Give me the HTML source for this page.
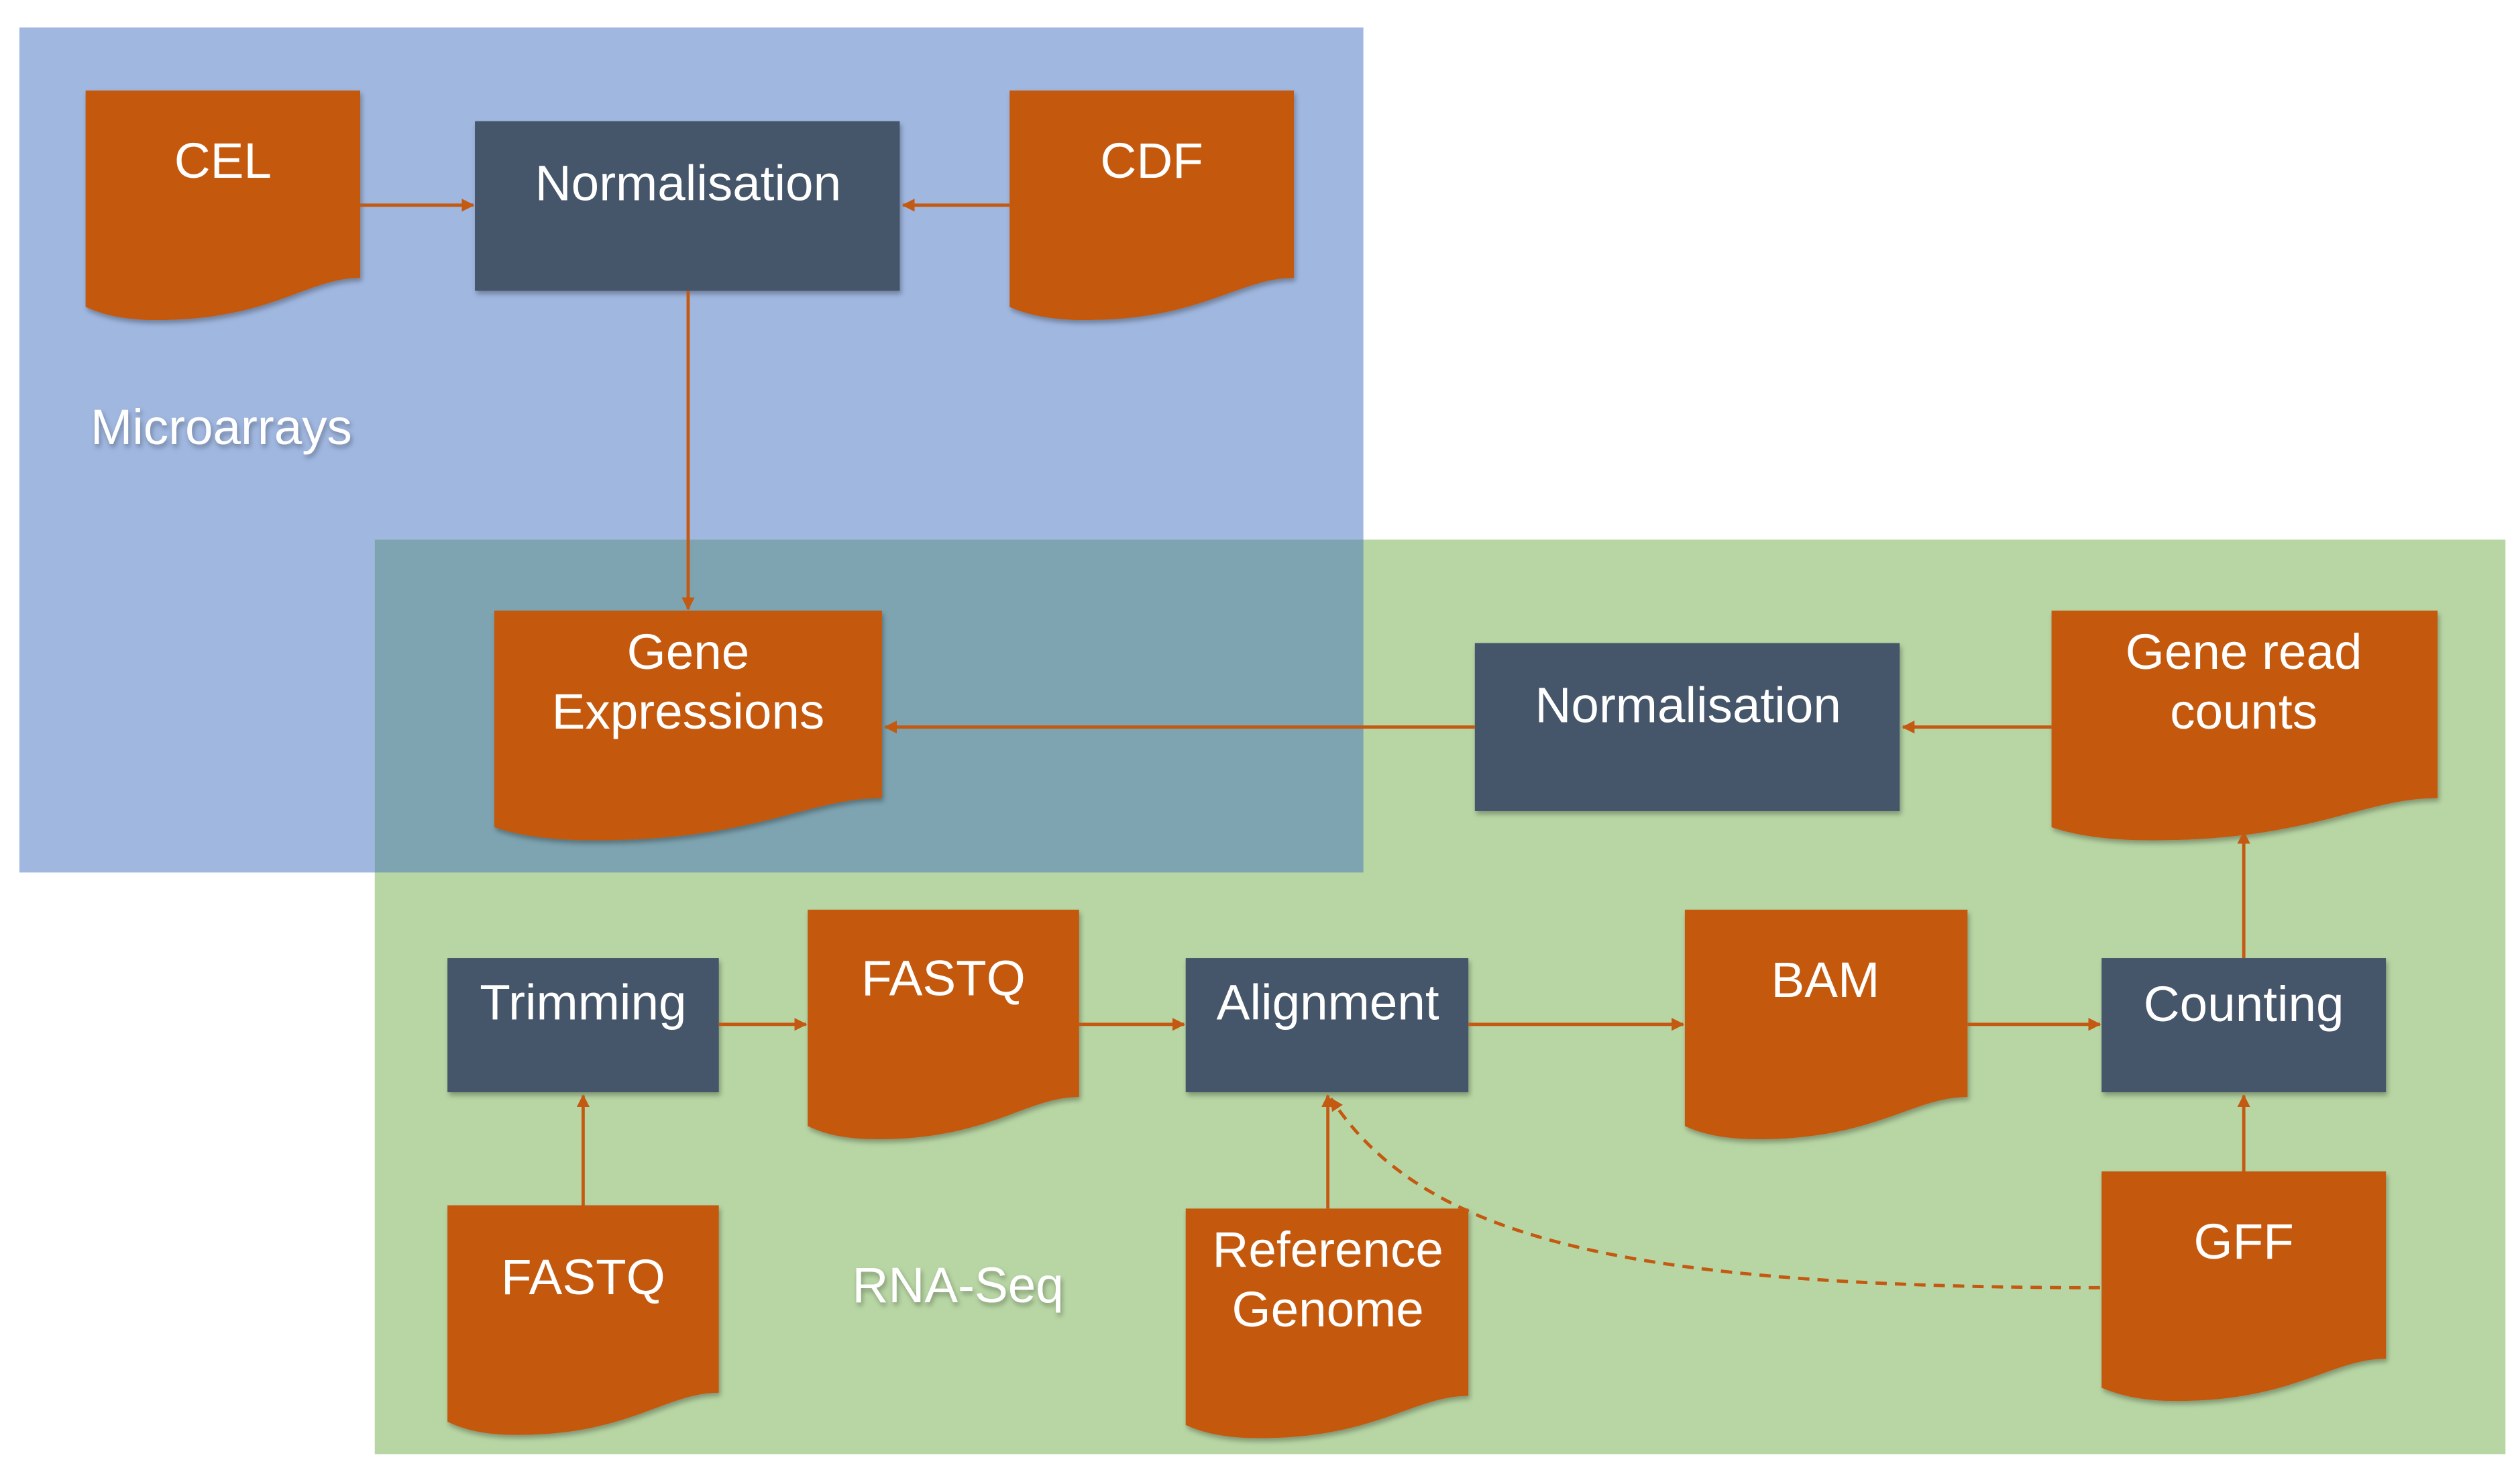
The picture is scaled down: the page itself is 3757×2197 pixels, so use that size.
<!DOCTYPE html>
<html><head><meta charset="utf-8"><style>
html,body{margin:0;padding:0;background:#fff;}
svg{display:block;}
text{font-family:"Liberation Sans Narrow","Liberation Sans",sans-serif;fill:#fff;text-anchor:middle;font-size:31px;}
</style></head><body>
<svg width="3757" height="2197" viewBox="0 0 1560 912.3" preserveAspectRatio="none" xmlns="http://www.w3.org/2000/svg">
<defs>
<marker id="a" viewBox="0 0 10 10" refX="9" refY="5" markerWidth="4" markerHeight="4" orient="auto"><path d="M0,0L10,5L0,10z" fill="#c45911"/></marker>
<filter id="s" x="-10%" y="-10%" width="130%" height="130%"><feDropShadow dx="1" dy="2" stdDeviation="1.5" flood-color="#000" flood-opacity="0.3"/></filter>
</defs>
<rect x="12" y="17" width="832" height="523" fill="#a0b7e0"/>
<rect x="232" y="334" width="1319" height="566" fill="#b8d6a4"/>
<rect x="232" y="334" width="612" height="206" fill="#7ea4b1"/>

<g fill="#c45911" filter="url(#s)">
<path d="M53,56H223V172C189,172 166,200 90,198 70,197 60,193 53,190Z"/>
<path d="M625,56H801V172C766,172 742,200 664,198 643,197 632,193 625,190Z"/>
<path d="M306,378H546V494C498,494 466,522 358,520 330,519 315,515 306,512Z"/>
<path d="M1270,378H1509V494C1461,494 1429,522 1322,520 1294,519 1279,515 1270,512Z"/>
<path d="M500,563H668V679C634,679 611,707 536,705 516,704 507,700 500,697Z"/>
<path d="M1043,563H1218V679C1183,679 1159,707 1081,705 1060,704 1050,700 1043,697Z"/>
<path d="M277,746H445V862C411,862 388,890 313,888 293,887 284,883 277,880Z"/>
<path d="M734,748H909V864C874,864 850,892 772,890 751,889 741,885 734,882Z"/>
<path d="M1301,725H1477V841C1442,841 1418,869 1340,867 1319,866 1309,862 1301,859Z"/>
</g>
<g fill="#44546a" filter="url(#s)">
<rect x="294" y="75" width="263" height="105"/>
<rect x="913" y="398" width="263" height="104"/>
<rect x="277" y="593" width="168" height="83"/>
<rect x="734" y="593" width="175" height="83"/>
<rect x="1301" y="593" width="176" height="83"/>
</g>
<g stroke="#c45911" stroke-width="2" fill="none" marker-end="url(#a)">
<path d="M223,127H293"/>
<path d="M625,127H559"/>
<path d="M426,180V377"/>
<path d="M913,450H548"/>
<path d="M1270,450H1178"/>
<path d="M1389,593V515"/>
<path d="M445,634H499"/>
<path d="M668,634H733"/>
<path d="M909,634H1042"/>
<path d="M1218,634H1300"/>
<path d="M361,746V678"/>
<path d="M822,748V678"/>
<path d="M1389,725V678"/>
<path d="M1300,797C1000,797 880,765 824,680" stroke-dasharray="7,5"/>
</g>
<text x="138" y="110">CEL</text>
<text x="426" y="124">Normalisation</text>
<text x="713" y="110">CDF</text>
<text x="137" y="275" style="filter:url(#s)">Microarrays</text>
<text x="426" y="414">Gene</text>
<text x="426" y="451">Expressions</text>
<text x="1045" y="447">Normalisation</text>
<text x="1389" y="414">Gene read</text>
<text x="1389" y="451">counts</text>
<text x="361" y="631">Trimming</text>
<text x="584" y="616">FASTQ</text>
<text x="822" y="631">Alignment</text>
<text x="1130" y="617">BAM</text>
<text x="1389" y="632">Counting</text>
<text x="361" y="801">FASTQ</text>
<text x="593" y="806" style="filter:url(#s)">RNA-Seq</text>
<text x="822" y="784">Reference</text>
<text x="822" y="821">Genome</text>
<text x="1389" y="779">GFF</text>
</svg>
</body></html>
